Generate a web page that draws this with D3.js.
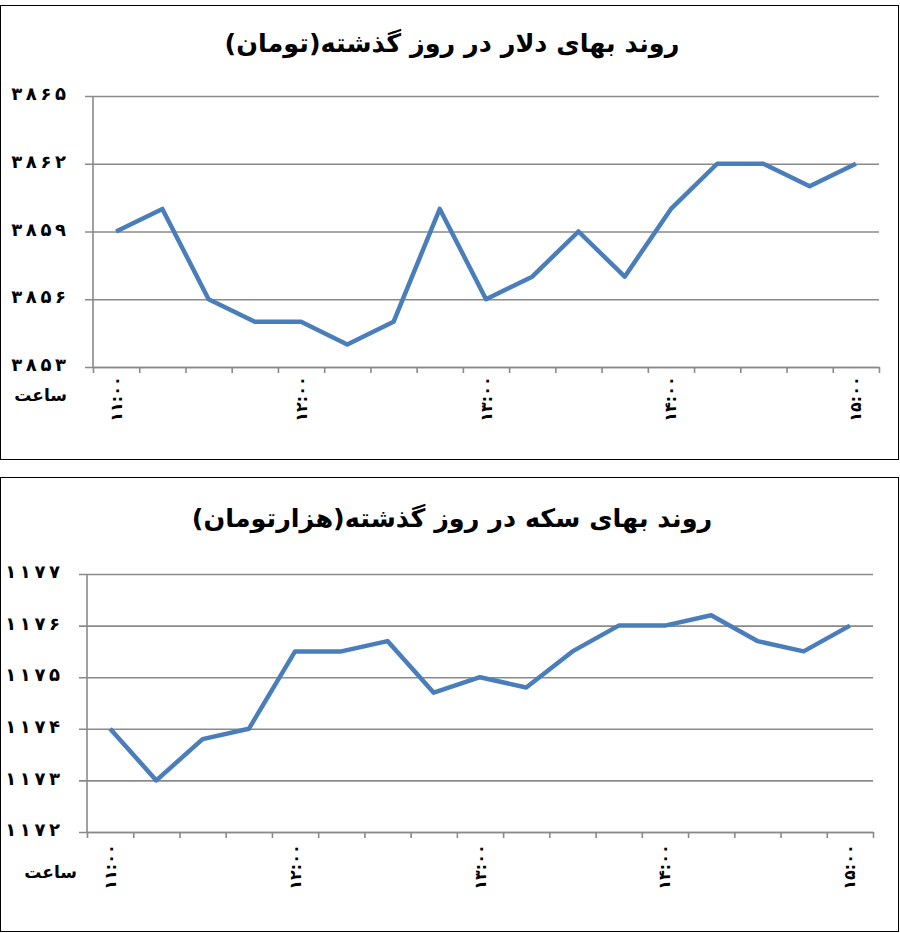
<!DOCTYPE html>
<html>
<head>
    <meta charset="utf-8">
    <title>روند بهای دلار و سکه</title>
    <script src="https://d3js.org/d3.v7.min.js"></script>
    <style>
        body { margin: 0; background: #fff; }
        svg { display: block; }
        .title { font-family: "DejaVu Sans", sans-serif; font-size: 25.5px; font-weight: bold; text-anchor: middle; direction: rtl; }
        .ylab text { font-family: "DejaVu Sans", sans-serif; font-size: 18px; font-weight: bold; fill: #000; }
        .xlab { font-family: "DejaVu Sans", sans-serif; font-size: 16px; font-weight: bold; }
        .unit { font-family: "DejaVu Sans", sans-serif; font-size: 17px; font-weight: bold; direction: rtl; }
    </style>
</head>
<body>
<script>
    // ساعت ها (هر ۱۵ دقیقه)
    const times = ["۱۱:۰۰", "۱۱:۱۵", "۱۱:۳۰", "۱۱:۴۵", "۱۲:۰۰", "۱۲:۱۵", "۱۲:۳۰", "۱۲:۴۵",
        "۱۳:۰۰", "۱۳:۱۵", "۱۳:۳۰", "۱۳:۴۵", "۱۴:۰۰", "۱۴:۱۵", "۱۴:۳۰", "۱۴:۴۵", "۱۵:۰۰"];
    const timeLabels = ["۱۱:۰۰", "۱۲:۰۰", "۱۳:۰۰", "۱۴:۰۰", "۱۵:۰۰"];

    // بهای دلار (تومان)
    const dollarValues = [3859, 3860, 3856, 3855, 3855, 3854, 3855, 3860, 3856,
        3857, 3859, 3857, 3860, 3862, 3862, 3861, 3862];
    const dollarTicks = [3853, 3856, 3859, 3862, 3865];

    // بهای سکه (هزار تومان)
    const coinValues = [1174, 1173, 1173.8, 1174, 1175.5, 1175.5, 1175.7, 1174.7, 1175,
        1174.8, 1175.5, 1176, 1176, 1176.2, 1175.7, 1175.5, 1176];
    const coinTicks = [1172, 1173, 1174, 1175, 1176, 1177];

    const titles = ["روند بهای دلار در روز گذشته(تومان)", "روند بهای سکه در روز گذشته(هزارتومان)"];
    const unitLabel = "ساعت";

    // ارقام فارسی با فاصله باریک میان آنها
    const faDigits = "۰۱۲۳۴۵۶۷۸۹";
    const toFa = n => String(n).split("").map(c => faDigits[+c]).join("\u2009");

    const W = 900, H = 933;
    const svg = d3.select("body").append("svg").attr("width", W).attr("height", H);

    // تنظیمات هر نمودار
    const panels = [
        { box: [0.5, 5.5, 898, 454], plot: { left: 93, right: 879, top: 96, bottom: 367 },
          values: dollarValues, ticks: dollarTicks, title: titles[0], titleY: 52,
          xlabY: 399, unitX: 67, unitY: 401 },
        { box: [0.5, 477.5, 898, 454], plot: { left: 87, right: 873, top: 574, bottom: 832 },
          values: coinValues, ticks: coinTicks, title: titles[1], titleY: 527,
          xlabY: 867, unitX: 77, unitY: 878 }
    ];

    panels.forEach(p => {
        const g = svg.append("g");
        const { left, right, top, bottom } = p.plot;

        g.append("rect")
            .attr("x", p.box[0]).attr("y", p.box[1])
            .attr("width", p.box[2]).attr("height", p.box[3])
            .attr("fill", "#fff").attr("stroke", "#000").attr("stroke-width", 1);

        g.append("text").attr("class", "title")
            .attr("x", 452).attr("y", p.titleY)
            .text(p.title);

        const x = d3.scaleBand().domain(times).range([left, right]);
        const slot = d3.scaleLinear().domain([0, times.length]).range([left, right]);
        const y = d3.scaleLinear().domain(d3.extent(p.ticks)).range([bottom, top]);

        // خطوط شبکه و برچسب محور عمودی
        const yAxis = g.append("g")
            .attr("class", "ylab")
            .attr("transform", `translate(${right},0)`)
            .call(d3.axisLeft(y).tickValues(p.ticks).tickFormat(toFa)
                .tickSize(right - left + 8).tickPadding(19));
        yAxis.select(".domain").remove();
        yAxis.selectAll("line").attr("stroke", "#8a8a8a").attr("stroke-width", 1.6);
        yAxis.selectAll("text").attr("dy", "0.2em");

        // محور افقی
        const xAxis = g.append("g")
            .attr("transform", `translate(0,${bottom})`)
            .call(d3.axisBottom(slot).tickValues(d3.range(times.length + 1)).tickFormat("").tickSize(6).tickSizeOuter(0));
        xAxis.select(".domain").attr("stroke", "#8a8a8a").attr("stroke-width", 1.6);
        xAxis.selectAll("line").attr("stroke", "#8a8a8a").attr("stroke-width", 1.6);

        g.append("line")
            .attr("x1", left).attr("x2", left)
            .attr("y1", top).attr("y2", bottom)
            .attr("stroke", "#8a8a8a").attr("stroke-width", 1.6);

        // برچسب ساعت ها
        g.selectAll(".xlab")
            .data(times.filter(t => timeLabels.includes(t)))
            .join("text")
            .attr("class", "xlab")
            .attr("transform", d => `translate(${x(d) + x.bandwidth() / 2},${p.xlabY}) rotate(-90)`)
            .attr("text-anchor", "middle")
            .attr("dominant-baseline", "central")
            .text(d => d);

        g.append("text").attr("class", "unit")
            .attr("x", p.unitX).attr("y", p.unitY)
            .attr("text-anchor", "start")
            .text(unitLabel);

        // خط داده
        const line = d3.line()
            .x((d, i) => x(times[i]) + x.bandwidth() / 2)
            .y(d => y(d));
        g.append("path")
            .datum(p.values)
            .attr("d", line)
            .attr("fill", "none")
            .attr("stroke", "#4a7ebb")
            .attr("stroke-width", 4.5)
            .attr("stroke-linejoin", "round");
    });
</script>
</body>
</html>
